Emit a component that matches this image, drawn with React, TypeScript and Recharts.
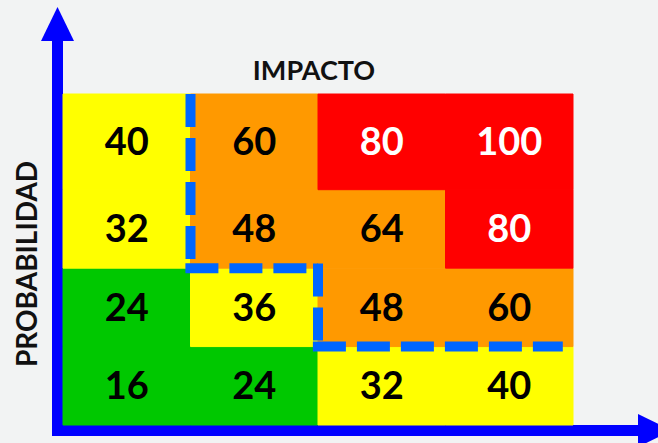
import { ComposedChart, ReferenceArea, ReferenceLine, XAxis, YAxis } from "recharts";

// impact (columns, left -> right) and probability (rows, bottom -> top)
const impactLevels = [1, 2, 3, 4];
const probabilityLevels = [1, 2, 3, 4];

// risk score per row, one value per impact level
const riskP1 = [16, 24, 32, 40];
const riskP2 = [24, 36, 48, 60];
const riskP3 = [32, 48, 64, 80];
const riskP4 = [40, 60, 80, 100];
const riskRows = [riskP1, riskP2, riskP3, riskP4];

// dashed tolerance limit, drawn as four separate strokes (start / end points)
const limitX1 = [1.5, 1.46, 2.5, 2.46];
const limitY1 = [4.72, 2.5, 2.56, 1.5];
const limitX2 = [1.5, 2.5, 2.5, 4.42];
const limitY2 = [2.5, 2.5, 1.5, 1.5];

const Y_TOP = 4.72;
const FONT = "Lato, 'Open Sans', sans-serif";

function cellColor(v: number) {
  if (v >= 80) return "#ff0000";
  if (v >= 48) return "#ff9900";
  if (v >= 30) return "#ffff00";
  return "#00c800";
}

function Arrows() {
  return (
    <g>
      <rect x={52} y={38} width={11} height={398} fill="#0000ff" />
      <polygon points="41,41 74,41 57.5,7" fill="#0000ff" />
      <rect x={52} y={425} width={590} height={11} fill="#0000ff" />
      <polygon points="638,414 638,447 672,430.5" fill="#0000ff" />
      <text x={314} y={80} textAnchor="middle" fontFamily={FONT} fontWeight={700} fontSize={27} fill="#111">
        IMPACTO
      </text>
      <text
        x={37}
        y={264}
        textAnchor="middle"
        fontFamily={FONT}
        fontWeight={700}
        fontSize={28}
        fill="#111"
        transform="rotate(-90 37 264)"
      >
        PROBABILIDAD
      </text>
    </g>
  );
}

export default function App() {
  return (
    <div style={{ position: "absolute", left: 0, top: 0, width: 658, height: 443, background: "#f2f3f3" }}>
      <ComposedChart width={658} height={443} margin={{ top: 94, right: 85, bottom: 18, left: 63 }}>
        <XAxis type="number" dataKey="x" domain={[0.5, 4.5]} hide allowDataOverflow />
        <YAxis type="number" dataKey="y" domain={[0.5, Y_TOP]} hide allowDataOverflow />
        {probabilityLevels.map((p, r) =>
          impactLevels.map((imp, c) => {
            const v = riskRows[r][c];
            return (
              <ReferenceArea
                key={`${p}-${imp}`}
                x1={imp - 0.5}
                x2={imp + 0.5}
                y1={p - 0.5}
                y2={r === probabilityLevels.length - 1 ? Y_TOP : p + 0.5}
                fill={cellColor(v)}
                fillOpacity={1}
                stroke={cellColor(v)}
                strokeWidth={1}
                ifOverflow="visible"
                label={{
                  value: v,
                  position: "center",
                  fill: v >= 80 ? "#ffffff" : "#000000",
                  fontSize: 38,
                  fontWeight: 700,
                  fontFamily: FONT,
                }}
              />
            );
          })
        )}
        {limitX1.map((x1, i) => (
          <ReferenceLine
            key={`limit-${i}`}
            segment={[
              { x: x1, y: limitY1[i] },
              { x: limitX2[i], y: limitY2[i] },
            ]}
            stroke="#0066ff"
            strokeWidth={10}
            strokeDasharray="33 11"
            ifOverflow="visible"
          />
        ))}
        <Arrows />
      </ComposedChart>
    </div>
  );
}
